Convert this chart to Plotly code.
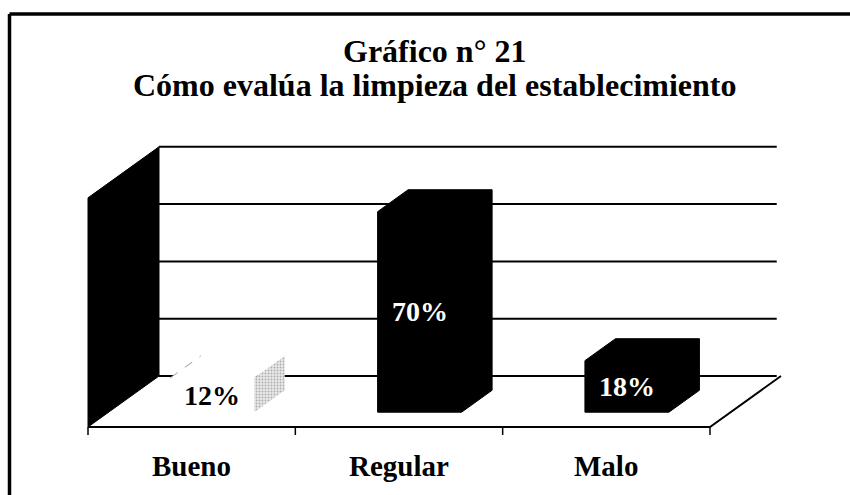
import plotly.graph_objects as go

# ---------------- data ----------------
categories = ["Bueno", "Regular", "Malo"]
values = [12, 70, 18]
value_labels = ["12%", "70%", "18%"]
gridline_values = [0, 20, 40, 60, 80]
title_line1 = "Gráfico n° 21"
title_line2 = "Cómo evalúa la limpieza del establecimiento"

# ---------------- geometry (oblique 3D projection in data units) ----------------
W, H = 850, 495
OFF = 0                      # page body margin removed via post_script
PX_PER_CAT = 207.33          # pixels per category slot
AX_LEFT_PX = 88 - OFF        # front-left floor corner
FLOOR_FRONT_PX = 427 - OFF   # front floor edge (y=0 at depth 0)
PX_PER_PCT = 2.865           # pixels per percentage point
DEPTH_DX = 71 / PX_PER_CAT   # x shift from front to back (category units)
DEPTH_DY = 51 / PX_PER_PCT   # y shift from front to back (percent units)
BAR_HALF = 0.2025            # half bar width (category units)
D0, D1 = 0.29, 0.72          # bar depth span (fraction of floor depth)
YMAX = gridline_values[-1]

X0 = -AX_LEFT_PX / PX_PER_CAT
X1 = X0 + W / PX_PER_CAT
Y1 = FLOOR_FRONT_PX / PX_PER_PCT
Y0 = Y1 - H / PX_PER_PCT
n = len(categories)

FONT = "Liberation Serif, Times New Roman, serif"

fig = go.Figure()


def poly(xs, ys, fill, line_color=None, line_width=0, pattern=None):
    kw = dict(
        x=list(xs) + [xs[0]], y=list(ys) + [ys[0]], mode="lines",
        fill="toself", fillcolor=fill,
        line=dict(color=line_color or "rgba(0,0,0,0)", width=line_width),
        hoverinfo="skip", showlegend=False,
    )
    if pattern:
        kw["fillpattern"] = pattern
    fig.add_trace(go.Scatter(**kw))


def line(xs, ys, color="black", width=2, dash=None):
    fig.add_trace(go.Scatter(x=xs, y=ys, mode="lines",
                             line=dict(color=color, width=width, dash=dash),
                             hoverinfo="skip", showlegend=False))


# left side wall (black)
poly([0, DEPTH_DX, DEPTH_DX, 0],
     [0, DEPTH_DY, DEPTH_DY + YMAX, YMAX], "black", "black", 1)

# back wall gridlines
for g in gridline_values:
    line([DEPTH_DX, n + DEPTH_DX * 0.94], [DEPTH_DY + g, DEPTH_DY + g], "black", 2)

# floor outline (front and right edges)
line([0, n, n + DEPTH_DX], [0, 0, DEPTH_DY], "black", 2)

# category ticks
for i in range(n + 1):
    line([i, i], [0, -8 / PX_PER_PCT], "black", 1.5)

# bars
for i, (cat, v) in enumerate(zip(categories, values)):
    c = i + 0.5
    xl0, xr0 = c - BAR_HALF + D0 * DEPTH_DX, c + BAR_HALF + D0 * DEPTH_DX
    xl1, xr1 = c - BAR_HALF + D1 * DEPTH_DX, c + BAR_HALF + D1 * DEPTH_DX
    yb0, yb1 = D0 * DEPTH_DY, D1 * DEPTH_DY
    if i == 0:
        # light (nearly white) bar: white faces, speckled grey side face
        poly([xl0, xr0, xr1, xl1, xl0], [yb0, yb0, yb1, yb1, yb0 + v], "white")
        poly([xl0, xr0, xr0, xl0], [yb0, yb0, yb0 + v, yb0 + v], "white")
        poly([xl0, xr0, xr1, xl1], [yb0 + v, yb0 + v, yb1 + v, yb1 + v], "white")
        poly([xr0, xr1, xr1, xr0], [yb0, yb1, yb1 + v, yb0 + v], "#dcdcdc",
             pattern=dict(shape=".", fgcolor="#707070", bgcolor="#e8e8e8",
                          size=3, solidity=0.3))
        line([xl0, xl1], [yb0 + v, yb1 + v], "#999999", 1, "dash")
        txt_color = "black"
    else:
        poly([xl0, xr0, xr1, xr1, xl1, xl0],
             [yb0, yb0, yb1, yb1 + v, yb1 + v, yb0 + v], "black", "black", 1)
        txt_color = "white"
    fig.add_annotation(
        x=c + D0 * DEPTH_DX, y=yb0 + v / 2, text="<b>" + value_labels[i] + "</b>",
        showarrow=False, xanchor="center", yanchor="middle",
        font=dict(family=FONT, size=28, color=txt_color))

# category labels
for i, cat in enumerate(categories):
    fig.add_annotation(x=i + 0.5, y=(FLOOR_FRONT_PX - (466 - OFF)) / PX_PER_PCT,
                       text="<b>" + cat + "</b>", showarrow=False,
                       xanchor="center", yanchor="middle",
                       font=dict(family=FONT, size=29, color="black"))

# title (two lines)
fig.add_annotation(xref="paper", yref="paper", x=(434 - OFF) / W, y=1 - (51 - OFF) / H,
                   text="<b>" + title_line1 + "</b>", showarrow=False,
                   xanchor="center", yanchor="middle",
                   font=dict(family=FONT, size=32, color="black"))
fig.add_annotation(xref="paper", yref="paper", x=(435 - OFF) / W, y=1 - (85 - OFF) / H,
                   text="<b>" + title_line2 + "</b>", showarrow=False,
                   xanchor="center", yanchor="middle",
                   font=dict(family=FONT, size=32, color="black"))

# outer frame (left and top edges visible)
FX, FY = (9.5 - OFF) / W, 1 - (14 - OFF) / H
fig.add_shape(type="line", xref="paper", yref="paper",
              x0=FX, x1=FX, y0=0, y1=FY, line=dict(color="black", width=3.5))
fig.add_shape(type="line", xref="paper", yref="paper",
              x0=FX, x1=1, y0=FY, y1=FY, line=dict(color="black", width=3.5))

fig.update_layout(
    width=W, height=H, autosize=False,
    margin=dict(l=0, r=0, t=0, b=0),
    paper_bgcolor="white", plot_bgcolor="white",
    xaxis=dict(range=[X0, X1], visible=False, fixedrange=True),
    yaxis=dict(range=[Y0, Y1], visible=False, fixedrange=True),
    showlegend=False,
)

fig.write_html(
    "out.html",
    config={"displayModeBar": False},
    post_script="document.body.style.margin='0';document.body.style.overflow='hidden';",
)
